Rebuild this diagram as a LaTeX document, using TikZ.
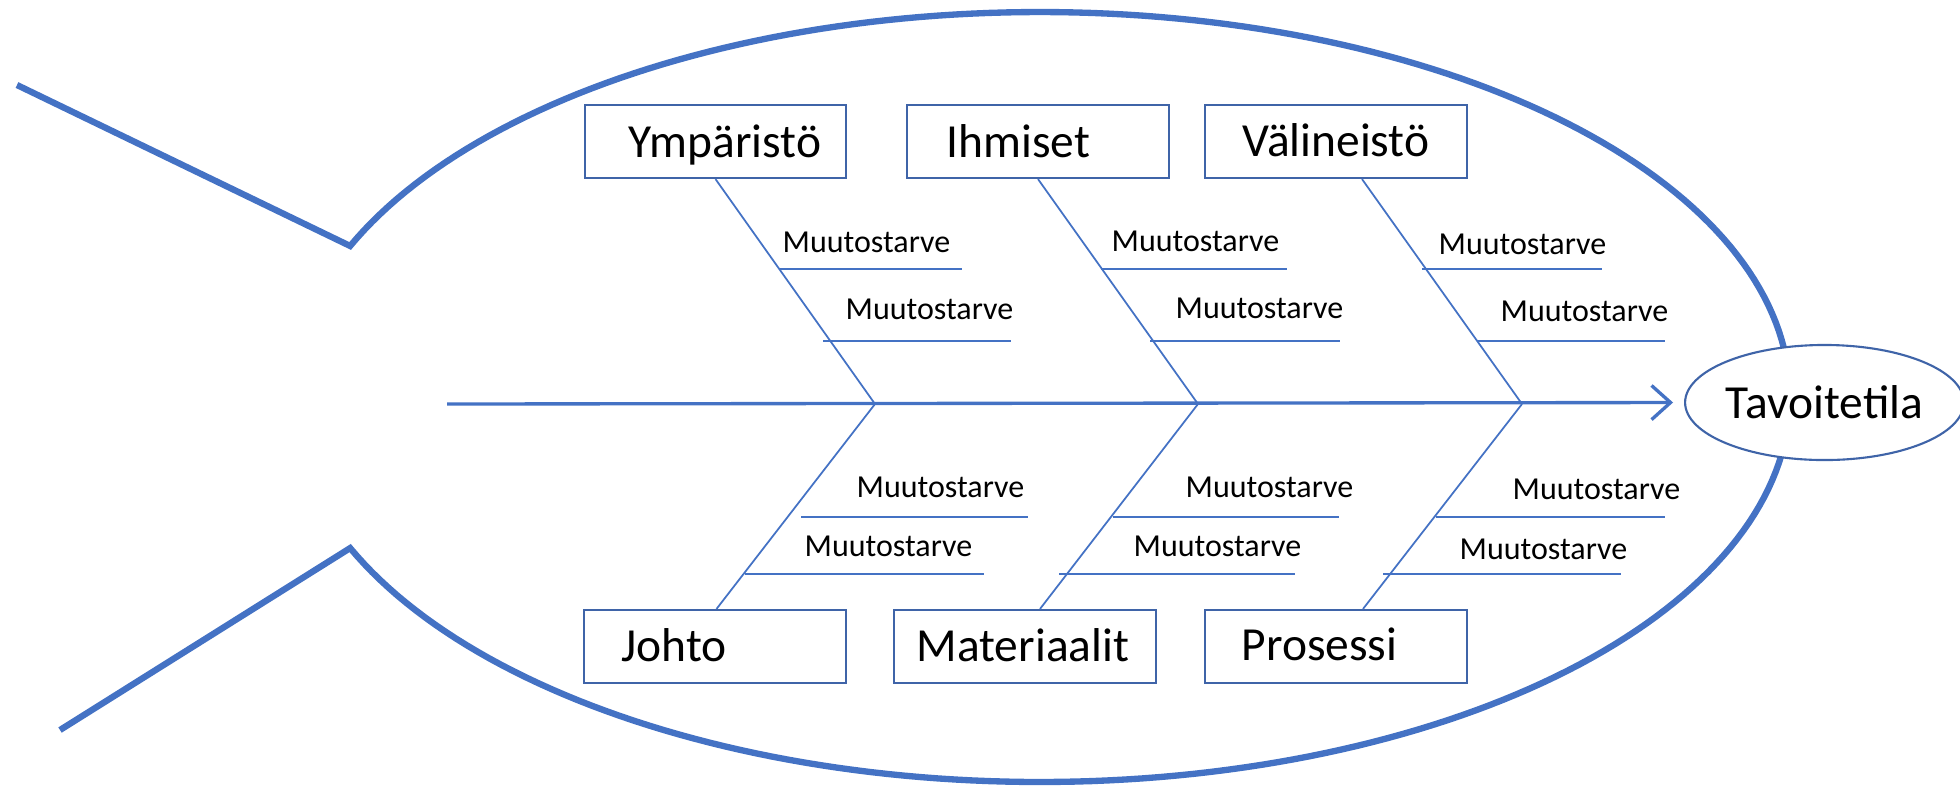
\documentclass[tikz,border=0pt]{standalone}
\usepackage{fontspec}
\setmainfont{Carlito}
\usetikzlibrary{arrows.meta,shapes.geometric}
\definecolor{fishblue}{HTML}{4472C4}
\definecolor{boxblue}{HTML}{3F64A8}
\begin{document}
\begin{tikzpicture}[x=0.01cm,y=-0.01cm,
  body/.style={draw=fishblue, line width=1.8pt, line join=miter},
  spine/.style={draw=fishblue, line width=0.95pt, -{Straight Barb[length=5.4pt,width=9.7pt]}},
  bone/.style={draw=fishblue, line width=0.5pt},
  subline/.style={draw=fishblue, line width=0.65pt},
  catbox/.style={draw=boxblue, line width=0.6pt, minimum width=2.61cm, minimum height=0.73cm, inner sep=0pt},
  cattext/.style={font=\fontsize{13.5pt}{16pt}\selectfont, anchor=base west, inner sep=0pt},
  cause/.style={font=\fontsize{9.1pt}{11pt}\selectfont, anchor=base west, inner sep=0pt},
  goal/.style={ellipse, draw=boxblue, fill=white, line width=0.6pt, minimum width=2.57cm, minimum height=1.15cm, inner sep=0pt, font=\fontsize{13.5pt}{16pt}\selectfont}
]
\useasboundingbox (0,0) rectangle (1960,787);

% fish body
\draw[body] (17,85) -- plot[domain=203.1:516.9, samples=240] ({1040+750*cos(\x)},{397+385*sin(\x)}) -- (60,730);

% goal
\node[goal] (goal) at (1824.5,402.5) {Tavoitetila};

% spine
\coordinate (spinestart) at (447,404);
\coordinate (j1) at (875,404);
\coordinate (j2) at (1198,404);
\coordinate (j3) at (1522,404);
\draw[spine, shorten >=0.11cm] (spinestart) -- (goal.west);

% category boxes
\node[catbox] (ymp) at (715.5,141.5) {};
\node[catbox] (ihm) at (1038,141.5) {};
\node[catbox] (val) at (1336,141.5) {};
\node[catbox] (joh) at (715,646.5) {};
\node[catbox] (mat) at (1025,646.5) {};
\node[catbox] (pro) at (1336,646.5) {};

\node[cattext] (tymp) at (628,157) {Ympäristö};
\node[cattext] (tihm) at (946,157) {Ihmiset};
\node[cattext] (tval) at (1242,156) {Välineistö};
\node[cattext] (tjoh) at (621,661) {Johto};
\node[cattext] (tmat) at (916,661) {Materiaalit};
\node[cattext] (tpro) at (1241,660) {Prosessi};

% bones
\draw[bone] (ymp.south) -- (j1);
\draw[bone] (ihm.south) -- (j2);
\draw[bone] (val.south) ++(26,0) -- (j3);
\draw[bone] (joh.north) ++(1.5,0) -- (j1);
\draw[bone] (mat.north) ++(15,0) -- (j2);
\draw[bone] (pro.north) ++(27,0) -- (j3);

% causes, upper
\node[cause] (c1) at (782,252) {Muutostarve};
\draw[subline] (779,269) -- (962,269);
\node[cause] (c2) at (845,319) {Muutostarve};
\draw[subline] (823,341) -- (1011,341);
\node[cause] (c3) at (1111,251) {Muutostarve};
\draw[subline] (1101,269) -- (1287,269);
\node[cause] (c4) at (1175,318.5) {Muutostarve};
\draw[subline] (1150,341) -- (1340,341);
\node[cause] (c5) at (1438,254) {Muutostarve};
\draw[subline] (1422,269) -- (1602,269);
\node[cause] (c6) at (1500,321.5) {Muutostarve};
\draw[subline] (1477,341) -- (1665,341);

% causes, lower
\node[cause] (c7) at (856,497) {Muutostarve};
\draw[subline] (801,517) -- (1028,517);
\node[cause] (c8) at (804,556) {Muutostarve};
\draw[subline] (745,574) -- (984,574);
\node[cause] (c9) at (1185,497) {Muutostarve};
\draw[subline] (1113,517) -- (1339,517);
\node[cause] (c10) at (1133,556) {Muutostarve};
\draw[subline] (1059,574) -- (1295,574);
\node[cause] (c11) at (1512,499) {Muutostarve};
\draw[subline] (1436,517) -- (1665,517);
\node[cause] (c12) at (1459,559) {Muutostarve};
\draw[subline] (1383,574) -- (1621,574);
\end{tikzpicture}
\end{document}
